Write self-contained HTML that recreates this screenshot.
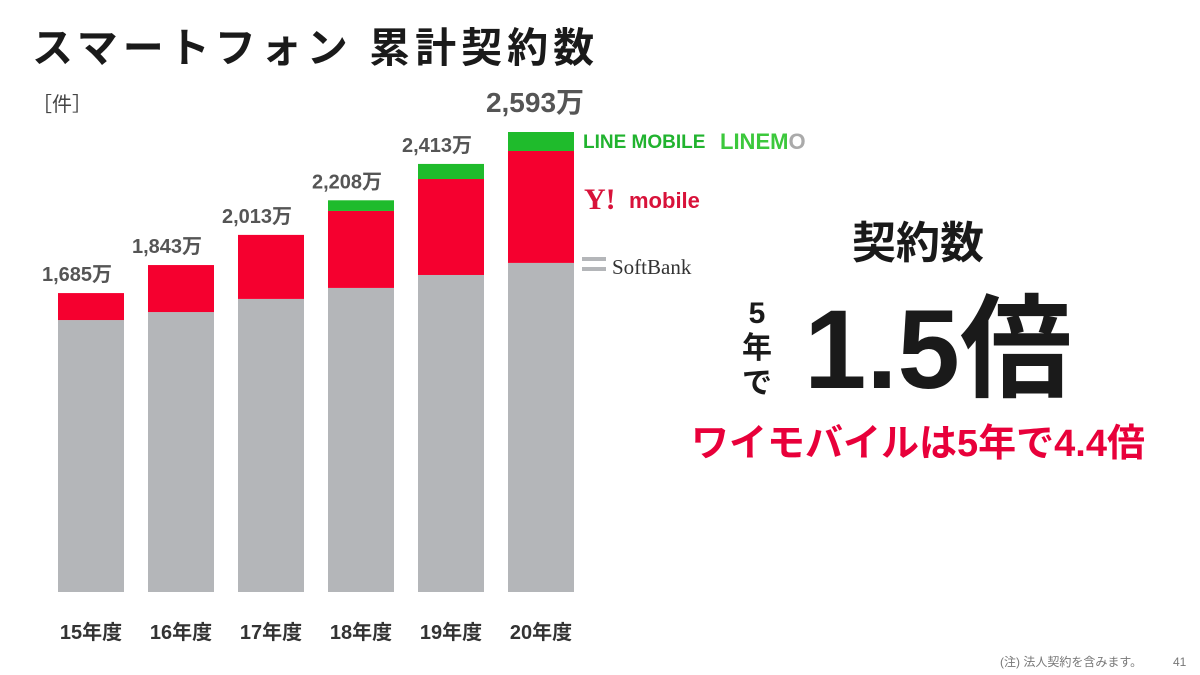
<!DOCTYPE html>
<html><head><meta charset="utf-8"><style>
body{margin:0;background:#fff;}
svg{display:block;font-family:"Liberation Sans","Noto Sans CJK JP",sans-serif;}
</style></head><body>
<svg width="1200" height="675" viewBox="0 0 1200 675">
<text x="32" y="62" font-size="41" font-weight="bold" fill="#1a1a1a" letter-spacing="5">スマートフォン 累計契約数</text>
<text x="32" y="111" font-size="20" fill="#444">［件］</text>
<g id="bars"></g>
<g id="xlabels"></g>
<g>
<text x="583" y="148" font-size="19" font-weight="bold" fill="#21b32f">LINE MOBILE</text>
<text x="720" y="149" font-size="22" font-weight="bold" fill="#3cc83c">LINEM<tspan fill="#aaa">O</tspan></text>
<text x="584" y="209" font-size="30" font-weight="bold" fill="#d8123a" font-family="Liberation Serif, serif">Y!</text>
<text x="629" y="208" font-size="22" font-weight="bold" fill="#d8123a">mobile</text>
<rect x="582" y="257" width="24" height="4" fill="#b4b6b9"/>
<rect x="582" y="267" width="24" height="4" fill="#b4b6b9"/>
<text x="612" y="274" font-size="21" fill="#333" font-family="Liberation Serif, serif">SoftBank</text>
</g>
<text x="918" y="258" font-size="44" font-weight="bold" fill="#1a1a1a" text-anchor="middle">契約数</text>
<g font-size="30" font-weight="bold" fill="#1a1a1a" text-anchor="middle">
<text x="757" y="323">5</text><text x="757" y="358">年</text><text x="757" y="393">で</text></g>
<text x="938" y="388" font-size="112" font-weight="bold" fill="#1a1a1a" text-anchor="middle">1.5倍</text>
<text x="918" y="456" font-size="38" font-weight="bold" fill="#e8003a" text-anchor="middle">ワイモバイルは5年で4.4倍</text>
<text x="1000" y="666" font-size="12" fill="#777">(注) 法人契約を含みます。</text>
<text x="1173" y="666" font-size="12" fill="#777">41</text>
</svg>
<script>
const categories=["15年度","16年度","17年度","18年度","19年度","20年度"];
const softbank=[1533,1578,1652,1714,1787,1855];
const ymobile=[152,265,361,434,541,631];
const lineMobile=[0,0,0,60,85,107];
const totalLabels=["1,685万","1,843万","2,013万","2,208万","2,413万","2,593万"];
const NS="http://www.w3.org/2000/svg";
const baseY=592, scale=460/2593;
const xPos=i=>58+i*90;
const yPos=v=>baseY-v*scale;
const bw=66;
const g=document.getElementById('bars');
const xl=document.getElementById('xlabels');
function rect(x,y,w,h,fill){const r=document.createElementNS(NS,'rect');r.setAttribute('x',x);r.setAttribute('y',y);r.setAttribute('width',w);r.setAttribute('height',h);r.setAttribute('fill',fill);g.appendChild(r);return r;}
categories.forEach((c,i)=>{
  const x=xPos(i);
  let acc=0;
  const segs=[[softbank[i],'#b4b6b9','softbank'],[ymobile[i],'#f5002f','ymobile'],[lineMobile[i],'#1fbb2c','line-mobile']];
  segs.forEach(s=>{
    if(s[0]<=0)return;
    const r=rect(x,yPos(acc+s[0]),bw,s[0]*scale,s[1]);
    
    
    acc+=s[0];
  });
  const t=document.createElementNS(NS,'text');
  const last=i===categories.length-1;
  t.setAttribute('x',x+bw/2-(last?6:14));
  t.setAttribute('y',last?112:yPos(acc)-12);
  t.setAttribute('text-anchor','middle');
  t.setAttribute('font-size',last?28:20);
  t.setAttribute('font-weight','bold');
  t.setAttribute('fill','#555');
  t.textContent=totalLabels[i];
  
  
  g.appendChild(t);
  const l=document.createElementNS(NS,'text');
  l.setAttribute('x',x+bw/2);l.setAttribute('y',639);
  l.setAttribute('text-anchor','middle');l.setAttribute('font-size',20);
  l.setAttribute('font-weight','bold');l.setAttribute('fill','#333');
  l.textContent=c;
  
  
  xl.appendChild(l);
});
</script>
</body></html>
